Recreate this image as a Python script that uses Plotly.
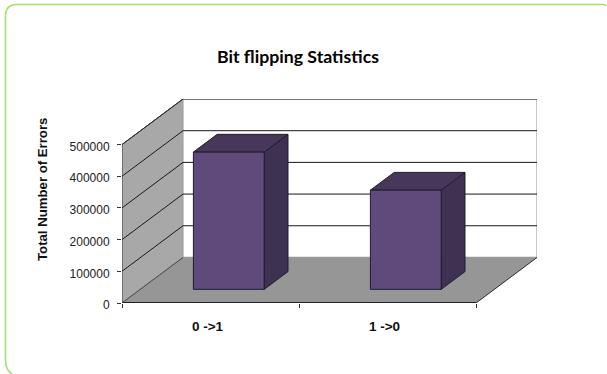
import plotly.graph_objects as go

# Chart data
categories = ["0 ->1", "1 ->0"]
errors = [433000, 313000]
y_ticks = [0, 100000, 200000, 300000, 400000, 500000]
chart_title = "Bit flipping Statistics"
y_title = "Total Number of Errors"

W, H = 607, 374

# Oblique projection: full depth moves a point right along x and up along y
DEPTH_X = 0.3446
DEPTH_Y = 143750
BAR_HALF = 0.2
BAR_FRONT, BAR_BACK = 0.30, 0.69
N = len(categories)
Y_MAX = y_ticks[-1]


def proj(x, y, d=0.0):
    return x + d * DEPTH_X, y + d * DEPTH_Y


def poly(points, fill=None, line="#000000", width=1.0):
    pts = list(points)
    if fill:
        pts.append(pts[0])
    xs, ys = zip(*pts)
    return go.Scatter(
        x=xs, y=ys, mode="lines", fill="toself" if fill else None,
        fillcolor=fill, line=dict(color=line, width=width),
        hoverinfo="skip", showlegend=False, cliponaxis=False,
    )


def page_x(px):
    return px / W


def page_y(px):
    return 1 - px / H


fig = go.Figure()

# Walls and floor
fig.add_trace(poly([proj(0, 0), proj(0, Y_MAX), proj(0, Y_MAX, 1), proj(0, 0, 1)],
                   fill="#A8A8A8", line="#8C8C8C", width=0.8))
fig.add_trace(poly([proj(0, 0, 1), proj(0, Y_MAX, 1), proj(N, Y_MAX, 1), proj(N, 0, 1)],
                   fill="#FFFFFF", line="#A6A6A6", width=1.2))
fig.add_trace(poly([proj(0, 0), proj(N, 0), proj(N, 0, 1), proj(0, 0, 1)],
                   fill="#969696", line="#969696", width=0.8))

# Gridlines wrapping from the side wall onto the back wall
for v in y_ticks[1:]:
    fig.add_trace(poly([proj(0, v), proj(0, v, 1), proj(N, v, 1)],
                       line="#1A1A1A", width=1.0))
fig.add_trace(poly([proj(0, Y_MAX, 1), proj(0, Y_MAX), proj(0, 0), proj(0, 0, 1)],
                   line="#333333", width=0.8))
fig.add_trace(poly([proj(N, 0), proj(N, 0, 1)], line="#333333", width=1.0))
fig.add_trace(poly([proj(0, 0), proj(N, 0)], line="#222222", width=1.8))

# Bars: side, top and front faces
for i, v in enumerate(errors):
    c = i + 0.5
    a, b = c - BAR_HALF, c + BAR_HALF
    fig.add_trace(poly([proj(b, 0, BAR_FRONT), proj(b, 0, BAR_BACK),
                        proj(b, v, BAR_BACK), proj(b, v, BAR_FRONT)],
                       fill="#3F3151", line="#1F1A2E", width=1.0))
    fig.add_trace(poly([proj(a, v, BAR_FRONT), proj(a, v, BAR_BACK),
                        proj(b, v, BAR_BACK), proj(b, v, BAR_FRONT)],
                       fill="#47375B", line="#1F1A2E", width=1.0))
    fig.add_trace(poly([proj(a, 0, BAR_FRONT), proj(b, 0, BAR_FRONT),
                        proj(b, v, BAR_FRONT), proj(a, v, BAR_FRONT)],
                       fill="#604A7B", line="#1F1A2E", width=1.0))

# Rounded frame, open at the lower edge and the right side
frame_path = (
    f"M {page_x(12)} {page_y(374)} "
    f"Q {page_x(5.5)} {page_y(370)} {page_x(5.5)} {page_y(360)} "
    f"L {page_x(5.5)} {page_y(16)} "
    f"Q {page_x(5.5)} {page_y(4.5)} {page_x(17)} {page_y(4.5)} "
    f"L {page_x(603)} {page_y(4.5)} "
    f"L {page_x(606)} {page_y(5.5)}"
)

fig.update_layout(
    width=W, height=H,
    margin=dict(l=0, r=0, t=0, b=0, autoexpand=False),
    paper_bgcolor="#FFFFFF",
    plot_bgcolor="rgba(0,0,0,0)",
    showlegend=False,
    font=dict(family="Liberation Sans", color="#000000", size=11),
    xaxis=dict(
        domain=[122 / W, 537 / W],
        range=[0, N + DEPTH_X],
        showgrid=False, zeroline=False, showline=False,
        tickmode="array",
        tickvals=[i + 0.5 for i in range(N)],
        ticktext=categories,
        ticks="",
        ticklabelstandoff=13,
        ticklabelshift=-3,
        tickfont=dict(family="Liberation Sans", size=13.5, color="#111111", weight="bold"),
        minor=dict(tickmode="array", tickvals=list(range(N + 1)), ticks="outside",
                   ticklen=4, tickwidth=1, tickcolor="#333333"),
    ),
    yaxis=dict(
        domain=[(H - 303) / H, (H - 99) / H],
        range=[0, Y_MAX + DEPTH_Y],
        showgrid=False, zeroline=False, showline=False,
        tickmode="array",
        tickvals=y_ticks,
        ticktext=[str(t) for t in y_ticks],
        ticks="outside", ticklen=4, tickwidth=1, tickcolor="#333333",
        ticklabelstandoff=5,
        ticklabelshift=2,
        tickfont=dict(family="Liberation Sans", size=12, color="#222222"),
    ),
    shapes=[dict(type="path", xref="paper", yref="paper", path=frame_path,
                 line=dict(color="#A6DE6E", width=1.5), fillcolor="rgba(0,0,0,0)")],
    annotations=[
        dict(text=f"<b>{chart_title}</b>", xref="paper", yref="paper",
             x=page_x(298), y=page_y(56.5),
             showarrow=False, xanchor="center", yanchor="middle",
             font=dict(family="Lato", size=17.7, color="#000000")),
        dict(text=f"<b>{y_title}</b>", xref="paper", yref="paper",
             x=page_x(42), y=page_y(190), textangle=-90,
             showarrow=False, xanchor="center", yanchor="middle",
             font=dict(family="Liberation Sans", size=13.2, color="#111111")),
    ],
)

fig.write_html("out.html")
